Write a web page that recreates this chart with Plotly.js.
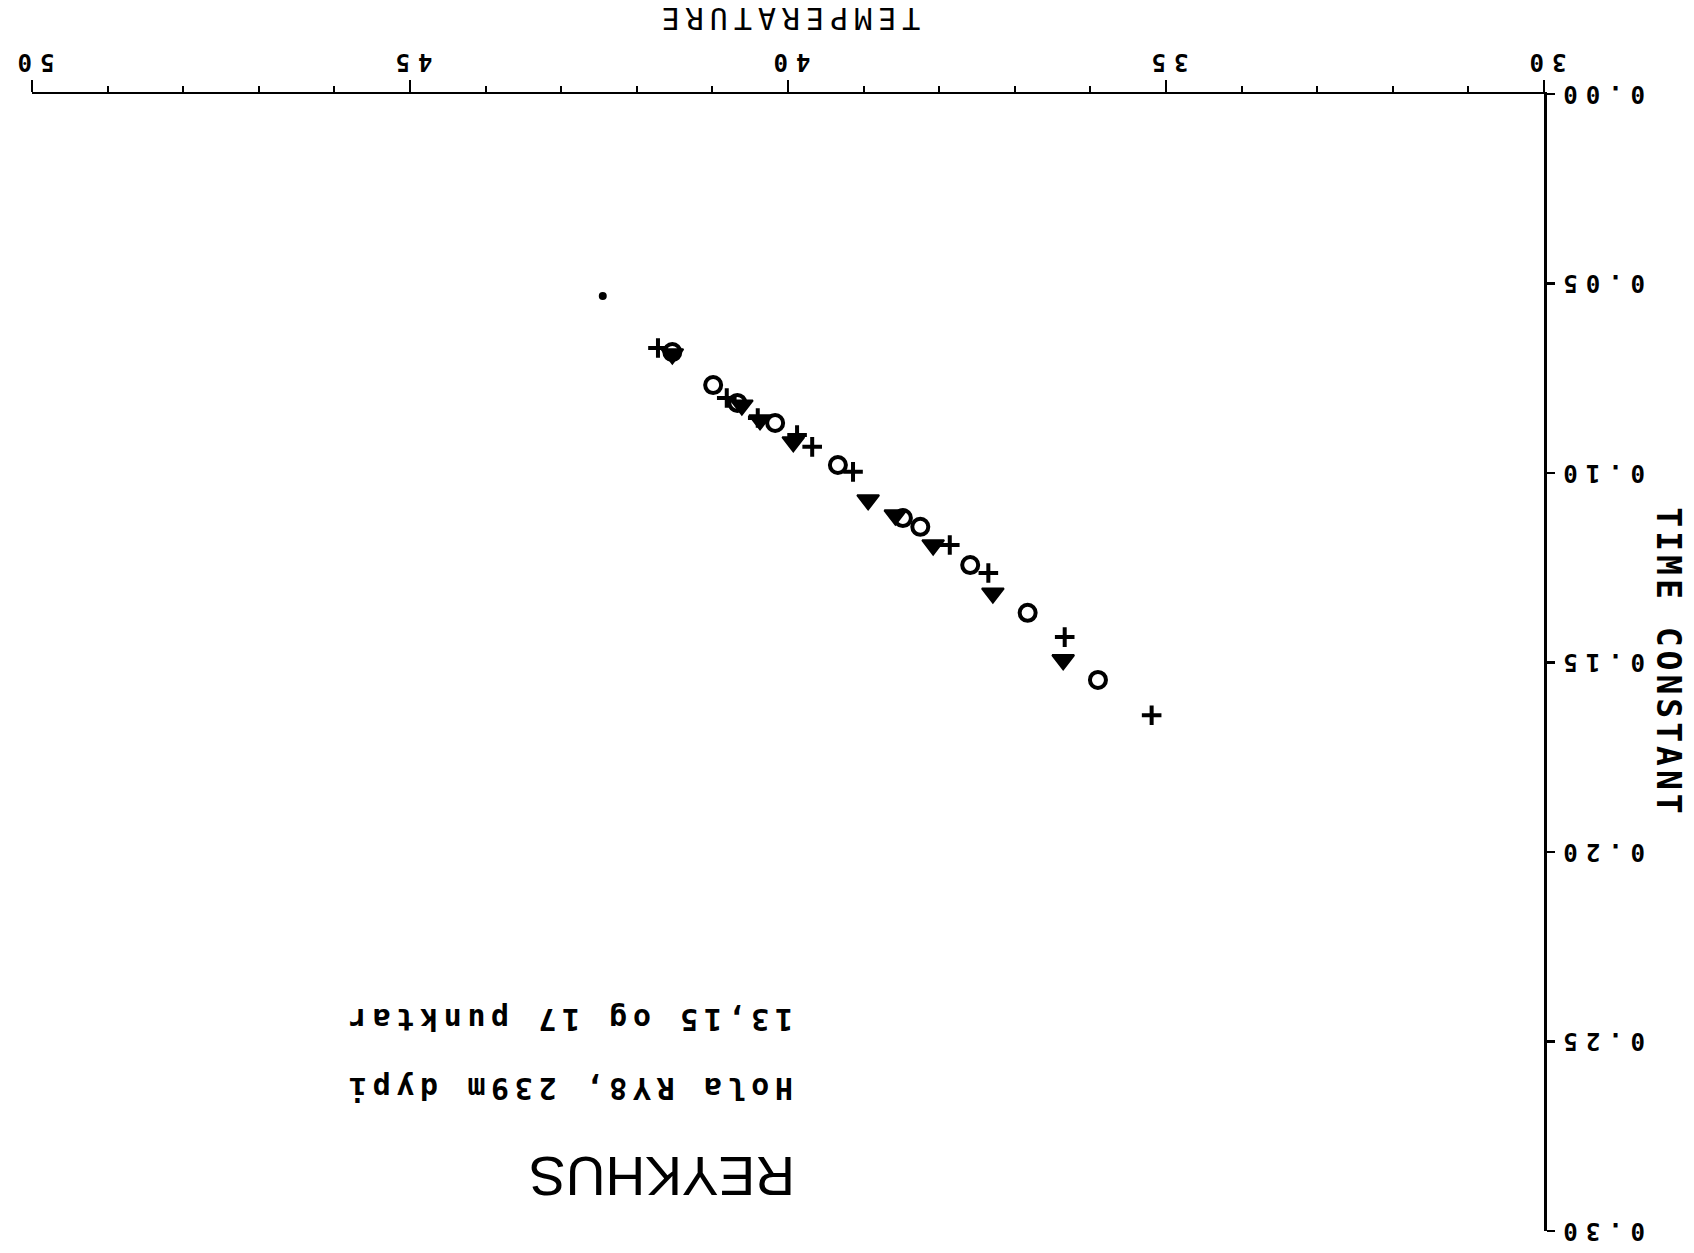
<!DOCTYPE html>
<html>
<head>
<meta charset="utf-8">
<script src="https://cdn.plot.ly/plotly-3.0.1.min.js"></script>
<style>
  html, body { margin: 0; padding: 0; background: #ffffff; overflow: hidden; }
  #chart { width: 1694px; height: 1253px; transform: rotate(180deg); transform-origin: 50% 50%; }
  #chart .xtick text, #chart .ytick text { letter-spacing: 8px; }
  #chart text.xtitle { letter-spacing: 6px; }
  #chart text.ytitle { letter-spacing: 4px; }
</style>
</head>
<body>
<div id="chart"></div>
<script>
// ---- data (temperature, time constant) ----
const xTitleText = 'TEMPERATURE';
const yTitleText = 'TIME CONSTANT';

const xTickVals = [30, 35, 40, 45, 50];
const xTickText = ['30', '35', '40', '45', '50'];
const yTickVals = [0.00, 0.05, 0.10, 0.15, 0.20, 0.25, 0.30];
const yTickText = ['0.00', '0.05', '0.10', '0.15', '0.20', '0.25', '0.30'];

const circleTemp = [41.53, 40.99, 40.67, 40.17, 39.34, 38.48, 38.25, 37.59, 36.83, 35.90];
const circleTau  = [0.0681, 0.0768, 0.0815, 0.0868, 0.0979, 0.1119, 0.1142, 0.1243, 0.1369, 0.1546];

const plusTemp = [41.72, 40.81, 40.40, 39.88, 39.68, 39.14, 37.86, 37.35, 36.34, 35.19];
const plusTau  = [0.0670, 0.0802, 0.0855, 0.0900, 0.0931, 0.0997, 0.1190, 0.1264, 0.1433, 0.1639];

const triTemp = [41.53, 40.61, 40.37, 39.93, 38.94, 38.58, 38.08, 37.29, 36.36];
const triTau  = [0.0686, 0.0821, 0.0860, 0.0918, 0.1071, 0.1111, 0.1190, 0.1317, 0.1493];

const dotTemp = [42.45];
const dotTau  = [0.0533];

const noteTitle = 'REYKHUS';
const noteLine1 = 'Hola RY8, 239m dypi';
const noteLine2 = '13,15 og 17 punktar';

// ---- traces ----
const traces = [
  { type: 'scatter', mode: 'markers', name: 'o', x: circleTemp, y: circleTau,
    marker: { symbol: 'circle-open', size: 16, color: '#000', line: { width: 4, color: '#000' } } },
  { type: 'scatter', mode: 'markers', name: '+', x: plusTemp, y: plusTau,
    marker: { symbol: 'cross-thin-open', size: 14, color: '#000', line: { width: 4, color: '#000' } } },
  { type: 'scatter', mode: 'markers', name: 'triangle', x: triTemp, y: triTau,
    marker: { symbol: 'triangle-up', size: 19, color: '#000', line: { width: 2, color: '#000' } } },
  { type: 'scatter', mode: 'markers', name: 'dot', x: dotTemp, y: dotTau,
    marker: { symbol: 'circle', size: 8, color: '#000' } }
];

const tickFont = { family: 'DejaVu Sans Mono', size: 24, color: '#000', weight: 'bold' };
const monoNote = (t) => '<span style="letter-spacing:5.6px">' + t + '</span>';

const layout = {
  width: 1694, height: 1253,
  margin: { l: 150, r: 32, t: 22, b: 94, pad: 0 },
  paper_bgcolor: '#ffffff', plot_bgcolor: '#ffffff',
  showlegend: false,
  xaxis: {
    range: [30, 50], autorange: false,
    tickmode: 'array', tickvals: xTickVals, ticktext: xTickText,
    ticks: 'outside', ticklen: 12, tickwidth: 2.5, tickcolor: '#000',
    minor: { tick0: 30, dtick: 1, ticks: 'outside', ticklen: 6, tickwidth: 2, tickcolor: '#000', showgrid: false },
    showline: true, linecolor: '#000', linewidth: 2.5,
    showgrid: false, zeroline: false,
    tickfont: tickFont, ticklabelstandoff: -3,
    automargin: false,
    title: { text: xTitleText, font: { family: 'DejaVu Sans Mono', size: 30, color: '#000' }, standoff: 20 }
  },
  yaxis: {
    range: [0, 0.30], autorange: false,
    tickmode: 'array', tickvals: yTickVals, ticktext: yTickText,
    ticks: 'outside', ticklen: 8, tickwidth: 2.5, tickcolor: '#000',
    showline: true, linecolor: '#000', linewidth: 2.5,
    showgrid: false, zeroline: false,
    tickfont: tickFont, ticklabelstandoff: -4,
    automargin: false,
    title: { text: yTitleText, font: { family: 'DejaVu Sans Mono', size: 33, color: '#000', weight: 'bold' }, standoff: 34 }
  },
  annotations: [
    { x: 39.88, y: 0.2854, xref: 'x', yref: 'y', xanchor: 'left', yanchor: 'middle', showarrow: false,
      text: noteTitle, font: { family: 'Liberation Sans', size: 55, color: '#000' } },
    { x: 39.91, y: 0.2625, xref: 'x', yref: 'y', xanchor: 'left', yanchor: 'middle', showarrow: false,
      text: monoNote(noteLine1), font: { family: 'DejaVu Sans Mono', size: 30, color: '#000', weight: 'bold' } },
    { x: 39.91, y: 0.2441, xref: 'x', yref: 'y', xanchor: 'left', yanchor: 'middle', showarrow: false,
      text: monoNote(noteLine2), font: { family: 'DejaVu Sans Mono', size: 30, color: '#000', weight: 'bold' } }
  ]
};

Plotly.newPlot('chart', traces, layout, { displayModeBar: false, staticPlot: true });
</script>
</body>
</html>
